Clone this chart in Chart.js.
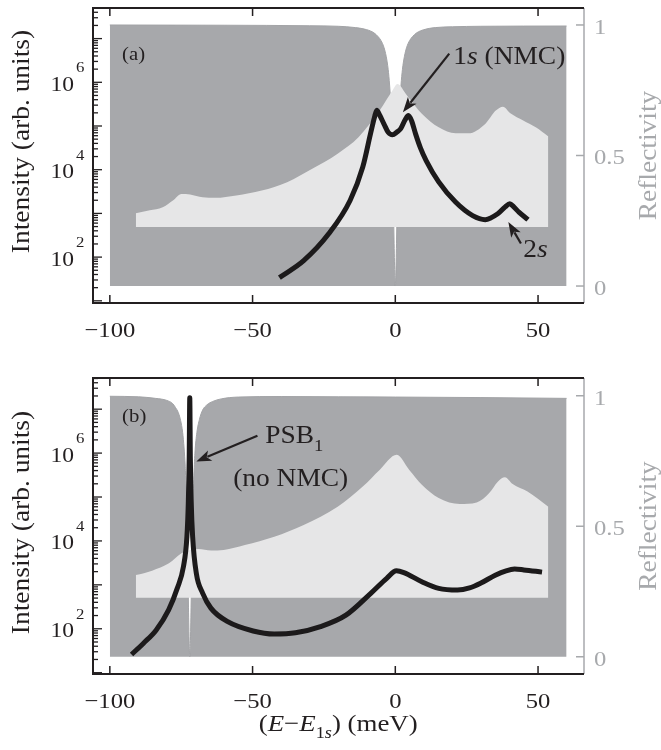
<!DOCTYPE html>
<html>
<head>
<meta charset="utf-8">
<script src="https://cdn.jsdelivr.net/npm/chart.js@4.4.1/dist/chart.umd.min.js"></script>
<style>
  body { margin: 0; background: #fff; font-family: 'Liberation Serif', 'Times New Roman', serif; }
  canvas { display: block; }
</style>
</head>
<body>
<canvas id="chartA" width="661" height="360"></canvas>
<canvas id="chartB" width="661" height="390"></canvas>
<script>
// ---- panel (a) ----
const energyA = [-40.6, -32.1, -23.2, -15.8, -11.4, -8.7, -7.3, -6.5, -5.5, -4.0, -2.5, -1.0, 0.5, 1.9, 3.5, 4.6, 5.7, 7.1, 8.8, 10.8, 15.2, 21.1, 27.1, 31.5, 35.9, 38.5, 40.1, 41.5, 43.3, 46.5];
const intensityA = [34, 83, 350, 2000, 11500, 66000, 158000, 229000, 178000, 112000, 72000, 63000, 72000, 87000, 141000, 174000, 132000, 66000, 31600, 16200, 5250, 1820, 890, 720, 980, 1410, 1660, 1410, 1070, 720];

const specEnergyA = [-90.9, -86, -81.5, -77.9, -74.9, -71.9, -67.5, -63.1, -55.7, -46.8, -37.9, -29.1, -20.2, -12.9, -5.5, -1.0, 0.7, 4.1, 9.3, 15.2, 21.1, 25.6, 31.5, 35.2, 37.7, 40.3, 44.8, 49.2, 53.6];
const specA = [0.279, 0.290, 0.302, 0.328, 0.353, 0.351, 0.340, 0.338, 0.347, 0.366, 0.398, 0.449, 0.507, 0.570, 0.672, 0.749, 0.774, 0.730, 0.660, 0.608, 0.585, 0.585, 0.621, 0.672, 0.687, 0.662, 0.634, 0.608, 0.573];

const reflEnergyA = [-100, -60, -30, -20, -14, -10, -7.5, -6, -5, -4, -3.2, -2.5, -2, -1.6, -1.3, -1, -0.7, -0.45, -0.2, 0, 0.2, 0.45, 0.7, 1, 1.3, 1.6, 2, 2.5, 3.2, 4, 5, 6, 7.5, 10, 14, 20, 30, 60];
const reflA = [1.0, 0.999, 0.997, 0.995, 0.99, 0.982, 0.97, 0.955, 0.94, 0.915, 0.88, 0.83, 0.77, 0.7, 0.62, 0.5, 0.34, 0.18, 0.05, 0, 0.05, 0.18, 0.34, 0.5, 0.62, 0.7, 0.77, 0.83, 0.88, 0.915, 0.94, 0.955, 0.97, 0.982, 0.99, 0.993, 0.995, 0.996];

// ---- panel (b) ----
const energyB = [-92.4, -88.2, -83.8, -79.4, -76.4, -74.2, -73.0, -72.5, -72.2, -72.0, -71.8, -71.5, -71.0, -69.7, -67.5, -64.6, -58.7, -49.8, -42.4, -35, -26.2, -17.3, -8.5, -3, 0.4, 3, 9.3, 15.2, 21.8, 26, 30, 35, 38.8, 41.8, 45, 51.4];
const intensityB = [26, 47, 93, 270, 830, 2630, 12600, 79000, 794000, 18200000, 794000, 79000, 12600, 1820, 650, 295, 145, 89, 76, 81, 112, 204, 650, 1410, 2090, 1900, 1175, 830, 760, 850, 1100, 1660, 2090, 2290, 2190, 1950];

const specEnergyB = [-90.9, -85.2, -79.3, -74.9, -69, -64.5, -60.1, -52.7, -42.4, -32.1, -20.2, -11.4, -5.5, 0.5, 4.9, 9.3, 15.2, 22.6, 28.5, 32.9, 35.9, 38.4, 41.1, 46.3, 53.6];
const specB = [0.313, 0.330, 0.358, 0.397, 0.413, 0.407, 0.409, 0.428, 0.460, 0.505, 0.575, 0.652, 0.716, 0.774, 0.716, 0.659, 0.608, 0.585, 0.591, 0.627, 0.671, 0.688, 0.662, 0.633, 0.575];

const reflEnergyB = [-100, -90, -84, -80, -78, -77, -76, -75.2, -74.5, -74, -73.6, -73.3, -73, -72.7, -72.45, -72.2, -72, -71.8, -71.55, -71.3, -71, -70.6, -70.2, -69.5, -68.6, -67.5, -66, -64, -61, -55, -40, -20, 0, 30, 60];
const reflB = [0.998, 0.996, 0.99, 0.982, 0.97, 0.955, 0.935, 0.905, 0.86, 0.8, 0.73, 0.65, 0.52, 0.35, 0.19, 0.05, 0, 0.05, 0.19, 0.35, 0.52, 0.68, 0.78, 0.86, 0.91, 0.945, 0.965, 0.978, 0.988, 0.995, 0.997, 0.996, 0.995, 0.993, 0.99];

const specBase = 0.226;

// ticks
const xTicks = [-100, -50, 0, 50];
const decadeLabels = [2, 4, 6];
const reflTicks = [0, 0.5, 1];

const ink = '#231f20';
const grayText = '#a7a9ac';
const darkFill = '#a7a8ab';
const lightFill = '#e6e6e7';
const SX = 1.12;
const FONT = "'Liberation Serif', 'Times New Roman', serif";

function rich(ctx, parts, x, y, size, align, color, rot) {
  ctx.save();
  ctx.translate(x, y);
  if (rot) ctx.rotate(rot);
  ctx.scale(SX, 1);
  ctx.fillStyle = color || ink;
  ctx.textBaseline = 'alphabetic';
  const font = p => (p.it ? 'italic ' : '') + Math.round(((p.sub || p.sup) ? size * 0.68 : size) * 10) / 10 + 'px ' + FONT;
  let w = 0;
  parts.forEach(p => { ctx.font = font(p); w += ctx.measureText(p.t).width; });
  let cx = align === 'center' ? -w / 2 : align === 'right' ? -w : 0;
  parts.forEach(p => {
    ctx.font = font(p);
    const dy = p.sub ? size * 0.3 : p.sup ? -size * 0.45 : 0;
    ctx.fillText(p.t, cx, dy + size * 0.33);
    cx += ctx.measureText(p.t).width;
  });
  ctx.restore();
}

function arrow(ctx, x1, y1, x2, y2) {
  const ang = Math.atan2(y2 - y1, x2 - x1);
  const hl = 15, hw = 5.5;
  ctx.save();
  ctx.strokeStyle = ink; ctx.fillStyle = ink; ctx.lineWidth = 2.2;
  ctx.beginPath();
  ctx.moveTo(x1, y1);
  ctx.lineTo(x2 - hl * 0.8 * Math.cos(ang), y2 - hl * 0.8 * Math.sin(ang));
  ctx.stroke();
  ctx.translate(x2, y2); ctx.rotate(ang);
  ctx.beginPath();
  ctx.moveTo(0, 0); ctx.lineTo(-hl, -hw); ctx.lineTo(-hl * 0.75, 0); ctx.lineTo(-hl, hw);
  ctx.closePath(); ctx.fill();
  ctx.restore();
}

const decor = {
  id: 'decor',
  afterDraw(chart, args, o) {
    const { ctx, chartArea: a } = chart;
    const x = chart.scales.x, y = chart.scales.y, r = chart.scales.y2;
    ctx.save();
    // right axis (gray)
    ctx.strokeStyle = grayText; ctx.lineWidth = 1.5;
    ctx.beginPath(); ctx.moveTo(a.right, a.top); ctx.lineTo(a.right, a.bottom); ctx.stroke();
    reflTicks.forEach(v => {
      const py = r.getPixelForValue(v);
      ctx.beginPath(); ctx.moveTo(a.right, py); ctx.lineTo(a.right - 8, py); ctx.stroke();
      rich(ctx, [{ t: String(v) }], a.right + 10, py + 1.5, 22, 'left', grayText);
    });
    // frame
    ctx.strokeStyle = ink; ctx.lineWidth = 2;
    ctx.beginPath();
    ctx.moveTo(a.right, a.top); ctx.lineTo(a.left, a.top); ctx.lineTo(a.left, a.bottom); ctx.lineTo(a.right, a.bottom);
    ctx.stroke();
    // x ticks
    ctx.lineWidth = 1.5;
    xTicks.forEach(v => {
      const px = x.getPixelForValue(v);
      ctx.beginPath();
      ctx.moveTo(px, a.bottom); ctx.lineTo(px, a.bottom - 8);
      ctx.moveTo(px, a.top); ctx.lineTo(px, a.top + 8);
      ctx.stroke();
      rich(ctx, [{ t: String(v).replace('-', '\u2212') }], px, a.bottom + 27, 22, 'center');
    });
    // log ticks
    ctx.lineWidth = 1.3;
    ctx.save();
    ctx.beginPath(); ctx.rect(a.left, a.top + 1, 20, a.bottom - a.top - 2); ctx.clip();
    for (let d = 0; d <= 8; d++) {
      for (let m = 1; m <= 9; m++) {
        const py = y.getPixelForValue(m * Math.pow(10, d));
        ctx.beginPath(); ctx.moveTo(a.left, py); ctx.lineTo(a.left + (m === 1 ? 9 : 5), py); ctx.stroke();
      }
    }
    ctx.restore();
    decadeLabels.forEach(d => {
      const py = y.getPixelForValue(Math.pow(10, d));
      rich(ctx, [{ t: '10' }], a.left - 19, py + 1.5, 21, 'right');
      rich(ctx, [{ t: String(d) }], a.left - 17, py - 15, 15, 'left');
    });
    // axis titles
    const mid = (a.top + a.bottom) / 2;
    rich(ctx, [{ t: 'Intensity (arb. units)' }], 21, mid + o.leftTitleShift, 24.5, 'center', ink, -Math.PI / 2);
    rich(ctx, [{ t: 'Reflectivity' }], 648, mid, 24.5, 'center', grayText, -Math.PI / 2);
    if (o.xTitle) {
      rich(ctx, [{ t: '(' }, { t: 'E', it: true }, { t: '\u2212' }, { t: 'E', it: true }, { t: '1', sub: true }, { t: 's', it: true, sub: true }, { t: ') (meV)' }],
        x.getPixelForValue(-20), a.bottom + 49, 24, 'center');
    }
    // annotations
    o.notes.forEach(n => {
      rich(ctx, n.parts, x.getPixelForValue(n.e), r.getPixelForValue(n.r), n.size, 'left');
    });
    o.arrows.forEach(w => {
      arrow(ctx, x.getPixelForValue(w[0]), r.getPixelForValue(w[1]), x.getPixelForValue(w[2]), r.getPixelForValue(w[3]));
    });
    ctx.restore();
  }
};

function pts(xs, ys) { return xs.map((v, i) => ({ x: v, y: ys[i] })); }

function makeChart(id, energy, intensity, specE, spec, reflE, refl, logMin, logMax, rMin, rMax, pad, deco) {
  return new Chart(document.getElementById(id), {
    type: 'line',
    data: {
      datasets: [
        { data: pts(energy, intensity), yAxisID: 'y', borderColor: '#1c1a1b', borderWidth: 5,
          pointRadius: 0, cubicInterpolationMode: 'monotone', borderJoinStyle: 'round', fill: false },
        { data: pts(specE, spec), yAxisID: 'y2', borderWidth: 0, borderColor: lightFill, pointRadius: 0,
          backgroundColor: lightFill, fill: { value: specBase }, cubicInterpolationMode: 'monotone' },
        { data: pts(reflE, refl), yAxisID: 'y2', borderWidth: 1, borderColor: '#a2a3a6', pointRadius: 0,
          backgroundColor: darkFill, fill: 'origin', cubicInterpolationMode: 'monotone' }
      ]
    },
    options: {
      responsive: false,
      animation: false,
      events: [],
      layout: { padding: pad },
      plugins: { legend: { display: false }, tooltip: { enabled: false }, decor: deco },
      scales: {
        x: { type: 'linear', min: -105.9, max: 66.1, display: false },
        y: { type: 'logarithmic', min: Math.pow(10, logMin), max: Math.pow(10, logMax), display: false },
        y2: { type: 'linear', axis: 'y', min: rMin, max: rMax, display: false }
      }
    },
    plugins: [decor]
  });
}

makeChart('chartA', energyA, intensityA, specEnergyA, specA, reflEnergyA, reflA, 0.95, 7.7, -0.065, 1.065,
  { left: 93, right: 77, top: 8, bottom: 57 },
  {
    leftTitleShift: -14, xTitle: false,
    notes: [
      { parts: [{ t: '(a)' }], e: -95.7, r: 0.89, size: 18.5 },
      { parts: [{ t: '1' }, { t: 's', it: true }, { t: ' (NMC)' }], e: 20.3, r: 0.88, size: 24.5 },
      { parts: [{ t: '2' }, { t: 's', it: true }], e: 44.8, r: 0.142, size: 24.5 }
    ],
    arrows: [[18.9, 0.89, 2.66, 0.666], [44.0, 0.163, 39.6, 0.245]]
  });

makeChart('chartB', energyB, intensityB, specEnergyB, specB, reflEnergyB, reflB, 0.97, 7.71, -0.066, 1.068,
  { left: 93, right: 77, top: 18, bottom: 76 },
  {
    leftTitleShift: -3.5, xTitle: true,
    notes: [
      { parts: [{ t: '(b)' }], e: -95.7, r: 0.921, size: 18.5 },
      { parts: [{ t: 'PSB' }, { t: '1', sub: true }], e: -45.6, r: 0.849, size: 24.5 },
      { parts: [{ t: '(no NMC)' }], e: -56.8, r: 0.685, size: 24.5 }
    ],
    arrows: [[-48.3, 0.847, -69.7, 0.748]]
  });
</script>
</body>
</html>
